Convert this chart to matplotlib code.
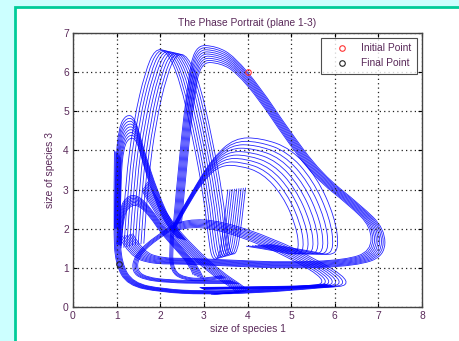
import matplotlib
matplotlib.use('Agg')
import matplotlib.pyplot as plt
from matplotlib.path import Path
from matplotlib.patches import PathPatch, Rectangle

plt.rcParams['font.family'] = ['Liberation Sans', 'DejaVu Sans']

# Traced guide points of each bundle of orbits (species 1 on x, species 3 on y).
# Each bundle is drawn several times, shrunk towards its anchor by the listed factors.

# big lobe peaking near (3, 6.7)
big_x = [2.3, 2.45, 2.62, 2.78, 3.3, 3.7, 4.3, 4.9, 5.7, 6.6, 7.15, 7.15, 6.5, 5.0, 3.5, 2.5, 1.8, 1.3, 1.05]
big_y = [2.1, 4.0, 5.6, 6.7, 6.66, 6.4, 5.6, 4.6, 3.4, 2.6, 2.0, 1.3, 1.05, 0.98, 1.05, 1.1, 1.1, 1.3, 1.8]
big_anchor = (4.1, 2.5)
big_scale = [1.0, 0.987, 0.974, 0.961, 0.948, 0.935, 0.922, 0.909, 0.896]

# tall lobe peaking near (2, 6.55)
tall_x = [1.1, 1.2, 1.4, 1.65, 1.88, 2.15, 2.45, 2.75, 3.0, 3.12, 3.2, 3.35, 3.45, 3.55]
tall_y = [1.5, 3.2, 4.8, 6.0, 6.6, 6.55, 5.8, 4.3, 2.8, 1.6, 1.2, 1.25, 2.0, 3.0]
tall_anchor = (12.0, 4.0)
tall_scale = [1.0, 0.994, 0.988, 0.982, 0.976, 0.97, 0.964, 0.958, 0.952]

# small lobe peaking near (1.3, 4.85), ending in the hub
small_x = [0.95, 0.97, 1.05, 1.22, 1.42, 1.6, 1.95, 2.3, 2.6]
small_y = [2.0, 3.6, 4.6, 4.92, 4.85, 4.1, 2.9, 2.05, 1.7]
small_anchor = (1.6, 2.0)
small_scale = [1.0, 0.975, 0.95, 0.925, 0.9, 0.875, 0.85, 0.825, 0.8]

# band through the hub down to (4, 0.45)
tail_x = [1.7, 2.2, 2.8, 3.4, 3.95, 4.05, 3.4]
tail_y = [3.2, 2.25, 1.5, 0.9, 0.5, 0.38, 0.35]
tail_anchor = (0.0, 0.0)
tail_scale = [1.0, 0.99, 0.98, 0.97, 0.96, 0.95, 0.94, 0.93]

# arch peaking near (4, 4.3)
arch_x = [2.3, 2.7, 3.2, 3.7, 4.3, 5.0, 5.6, 6.0, 6.1, 5.9, 5.4, 4.5]
arch_y = [2.1, 2.9, 3.8, 4.32, 4.32, 4.05, 3.3, 2.3, 1.5, 1.3, 1.45, 1.6]
arch_anchor = (2.3, 1.4)
arch_scale = [1.0, 0.97, 0.94, 0.91, 0.88, 0.85, 0.82, 0.79, 0.76]

# band from the hub down to (6.2, 0.65)
diag_x = [2.3, 2.6, 3.4, 4.6, 5.6, 6.2, 6.3, 5.9, 4.5, 3.0]
diag_y = [2.1, 2.25, 2.2, 1.75, 1.2, 0.8, 0.55, 0.5, 0.47, 0.45]
diag_anchor = (2.3, 0.8)
diag_scale = [1.0, 0.98, 0.96, 0.94, 0.92, 0.9, 0.88, 0.86]

# outer bottom-left corner
corner_x = [0.95, 0.93, 0.97, 1.25, 2.0, 3.0, 4.2, 5.3, 6.0]
corner_y = [4.0, 2.0, 1.1, 0.55, 0.38, 0.32, 0.36, 0.45, 0.52]
corner_anchor = (3.0, 1.5)
corner_scale = [1.0, 0.99, 0.98, 0.97, 0.96, 0.95, 0.94, 0.93]

# low lobe peaking near (1.4, 2.8)
low_x = [1.0, 1.05, 1.25, 1.5, 1.8, 2.1, 2.5, 2.9, 3.0]
low_y = [1.6, 2.5, 2.85, 2.85, 2.5, 2.0, 1.5, 1.0, 0.7]
low_anchor = (1.6, 1.4)
low_scale = [1.0, 0.975, 0.95, 0.925, 0.9, 0.875, 0.85, 0.825]

# arc from the hub round to the bottom
ring_x = [2.3, 1.8, 1.4, 1.35, 1.6, 2.2, 3.0, 3.8]
ring_y = [2.1, 1.75, 1.3, 0.9, 0.7, 0.62, 0.6, 0.6]
ring_anchor = (2.3, 1.2)
ring_scale = [1.0, 0.97, 0.94, 0.91, 0.88]

# stem from the hub straight down
stem_x = [2.25, 2.2, 2.25, 2.5, 3.0, 3.5]
stem_y = [2.1, 1.4, 0.9, 0.7, 0.65, 0.75]
stem_anchor = (2.8, 1.2)
stem_scale = [1.0, 0.96, 0.92, 0.88]

initial_point = (4.0, 6.0)
final_point = (1.05, 1.1)

bundles = [
    (big_x, big_y, big_anchor, big_scale),
    (tall_x, tall_y, tall_anchor, tall_scale),
    (small_x, small_y, small_anchor, small_scale),
    (tail_x, tail_y, tail_anchor, tail_scale),
    (arch_x, arch_y, arch_anchor, arch_scale),
    (diag_x, diag_y, diag_anchor, diag_scale),
    (corner_x, corner_y, corner_anchor, corner_scale),
    (low_x, low_y, low_anchor, low_scale),
    (ring_x, ring_y, ring_anchor, ring_scale),
    (stem_x, stem_y, stem_anchor, stem_scale),
]


def guide_path(xs, ys):
    # quadratic pieces through the midpoints of the guide points
    pts = list(zip(xs, ys))
    verts = [pts[0]]
    codes = [Path.MOVETO]
    for i in range(1, len(pts) - 1):
        if i == len(pts) - 2:
            end = pts[i + 1]
        else:
            end = ((pts[i][0] + pts[i + 1][0]) / 2, (pts[i][1] + pts[i + 1][1]) / 2)
        verts += [pts[i], end]
        codes += [Path.CURVE3, Path.CURVE3]
    return Path(verts, codes)


text_col = '#5a2a5a'
fs = 7.4

fig = plt.figure(figsize=(4.59, 3.41), dpi=100, facecolor='#ccffff')
fig.patches.append(Rectangle((15 / 459, -0.02), 1.0, 1 - 7 / 341 + 0.02, transform=fig.transFigure,
                             facecolor='white', edgecolor='#00cc99', lw=2, zorder=-10))

ax = fig.add_axes([73 / 459, 34 / 341, 349 / 459, 274 / 341])

for xs, ys, anchor, scales in bundles:
    for s in scales:
        cx = [anchor[0] + s * (x - anchor[0]) for x in xs]
        cy = [anchor[1] + s * (y - anchor[1]) for y in ys]
        ax.add_patch(PathPatch(guide_path(cx, cy), fill=False, edgecolor='#0000ff', lw=0.6, alpha=0.85))

ax.plot([initial_point[0]], [initial_point[1]], 'o', mfc='none', mec='#ff3333', ms=4, mew=0.8, label='Initial Point')
ax.plot([final_point[0]], [final_point[1]], 'o', mfc='none', mec='#222222', ms=4, mew=0.8, label='Final Point')

ax.set_xlim(0, 8)
ax.set_ylim(0, 7)
ax.set_xticks(range(0, 9))
ax.set_yticks(range(0, 8))
ax.grid(True, linestyle=(0, (1, 2.5)), color='#222222', lw=0.9)
ax.tick_params(direction='in', length=3, top=True, right=True, labelsize=fs, labelcolor=text_col, pad=3)
for sp in ax.spines.values():
    sp.set_color('#444444')
    sp.set_linewidth(1.0)

ax.set_title('The Phase Portrait (plane 1-3)', fontsize=fs, color=text_col, pad=5)
ax.set_xlabel('size of species 1', fontsize=fs, color=text_col, labelpad=2)
ax.set_ylabel('size of species 3', fontsize=fs, color=text_col, labelpad=6)

leg = ax.legend(loc='upper right', fontsize=fs, frameon=True, fancybox=False, borderaxespad=0.5,
                handlelength=3.0, handletextpad=0.4, borderpad=0.5, labelspacing=0.5)
leg.get_frame().set_edgecolor('#222222')
leg.get_frame().set_linewidth(0.8)
for t in leg.get_texts():
    t.set_color(text_col)

fig.savefig('out.png', dpi=100, facecolor=fig.get_facecolor())
